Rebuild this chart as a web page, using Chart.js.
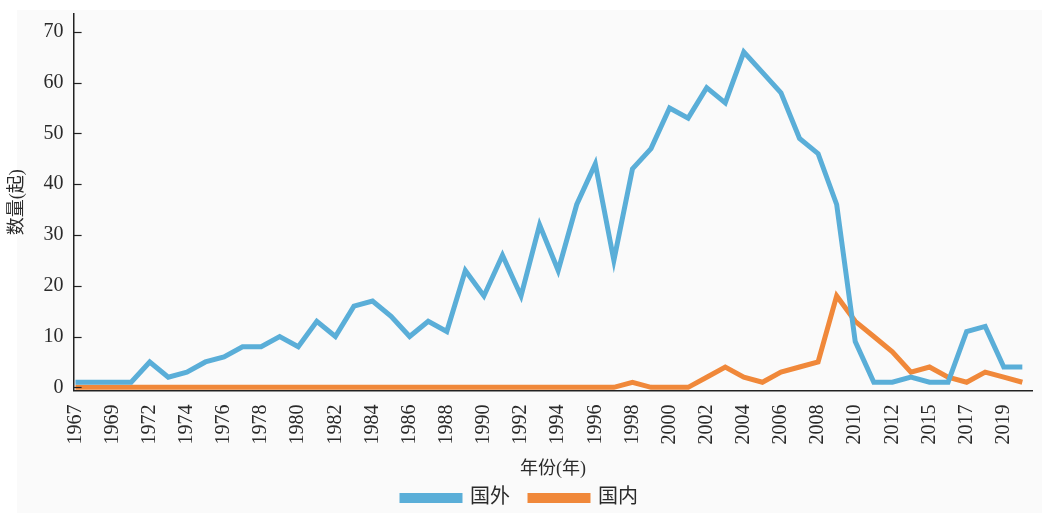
<!DOCTYPE html>
<html>
<head>
<meta charset="utf-8">
<script src="https://cdn.jsdelivr.net/npm/chart.js@4.4.1/dist/chart.umd.min.js"></script>
<style>
  html, body { margin: 0; padding: 0; background: #ffffff; }
  #bg { position: absolute; left: 17px; top: 10px; right: 0; bottom: 0; background: #fafafa; }
  #wrap { position: absolute; left: 0; top: 0; width: 1042px; height: 513px; }
</style>
</head>
<body>
<div id="bg"></div>
<div id="wrap"><canvas id="c"></canvas></div>
<script>
const years = [1967,1968,1969,1970,1972,1973,1974,1975,1976,1977,1978,1979,1980,1981,1982,1983,1984,1985,1986,1987,1988,1989,1990,1991,1992,1993,1994,1995,1996,1997,1998,1999,2000,2001,2002,2003,2004,2005,2006,2007,2008,2009,2010,2011,2012,2013,2015,2016,2017,2018,2019,2020];
const foreign = [1,1,1,1,5,2,3,5,6,8,8,10,8,13,10,16,17,14,10,13,11,23,18,26,18,32,23,36,44,25,43,47,55,53,59,56,66,62,58,49,46,36,9,1,1,2,1,1,11,12,4,4];
const domestic = [0,0,0,0,0,0,0,0,0,0,0,0,0,0,0,0,0,0,0,0,0,0,0,0,0,0,0,0,0,0,1,0,0,0,2,4,2,1,3,4,5,18,13,10,7,3,4,2,1,3,2,1];
const yTicks = [0,10,20,30,40,50,60,70];
const seriesNames = ['国外','国内'];

const FONT = '"Liberation Serif", "Noto Sans CJK SC", serif';
const TXT = '#2a2a2a';

const innerTicks = {
  id: 'innerTicks',
  afterDraw(chart) {
    const y = chart.scales.y, ctx = chart.ctx;
    ctx.save();
    ctx.strokeStyle = '#222';
    ctx.lineWidth = 1.2;
    yTicks.forEach(v => {
      const py = Math.round(y.getPixelForValue(v)) + 0.5;
      ctx.beginPath();
      ctx.moveTo(y.right, py);
      ctx.lineTo(y.right + 8, py);
      ctx.stroke();
    });
    ctx.restore();
  }
};

new Chart(document.getElementById('c'), {
  type: 'line',
  data: {
    datasets: [
      { label: seriesNames[0], data: foreign.map((v,i)=>({x:i,y:v})), borderColor: '#5aaed8', backgroundColor: '#5aaed8', borderWidth: 5, pointRadius: 0, tension: 0, borderJoinStyle: 'miter' },
      { label: seriesNames[1], data: domestic.map((v,i)=>({x:i,y:v})), borderColor: '#f0883a', backgroundColor: '#f0883a', borderWidth: 5, pointRadius: 0, tension: 0, borderJoinStyle: 'miter' }
    ]
  },
  options: {
    responsive: true,
    maintainAspectRatio: false,
    animation: false,
    layout: { padding: { left: 6, right: 8, top: 14, bottom: -5 } },
    plugins: {
      tooltip: { enabled: false },
      legend: {
        position: 'bottom',
        labels: { font: { family: FONT, size: 20 }, color: TXT, boxWidth: 58, boxHeight: 5, padding: 20 }
      }
    },
    scales: {
      x: {
        type: 'linear',
        min: -0.1,
        max: 51.55,
        afterBuildTicks(axis) {
          axis.ticks = years.map((_, i) => ({ value: i })).filter(t => t.value % 2 === 0);
        },
        ticks: {
          autoSkip: false,
          minRotation: 90, maxRotation: 90,
          padding: 14,
          font: { family: FONT, size: 20 }, color: TXT,
          callback: (v) => years[v]
        },
        grid: { display: false, drawTicks: false },
        border: { display: true, color: '#222', width: 1.5 },
        title: { display: true, text: '年份(年)', font: { family: FONT, size: 18 }, color: TXT, padding: { top: 0, bottom: -12 } }
      },
      y: {
        min: -0.6,
        max: 73.5,
        afterBuildTicks(axis) { axis.ticks = yTicks.map(v => ({ value: v })); },
        afterFit(axis) { axis.paddingTop = 0; },
        ticks: { padding: 10, font: { family: FONT, size: 20 }, color: TXT },
        grid: { display: false, drawTicks: false },
        border: { display: true, color: '#222', width: 1.5 },
        title: { display: true, text: '数量(起)', font: { family: FONT, size: 18 }, color: TXT, padding: { top: 0, bottom: 6 } }
      }
    }
  },
  plugins: [innerTicks]
});
</script>
</body>
</html>
